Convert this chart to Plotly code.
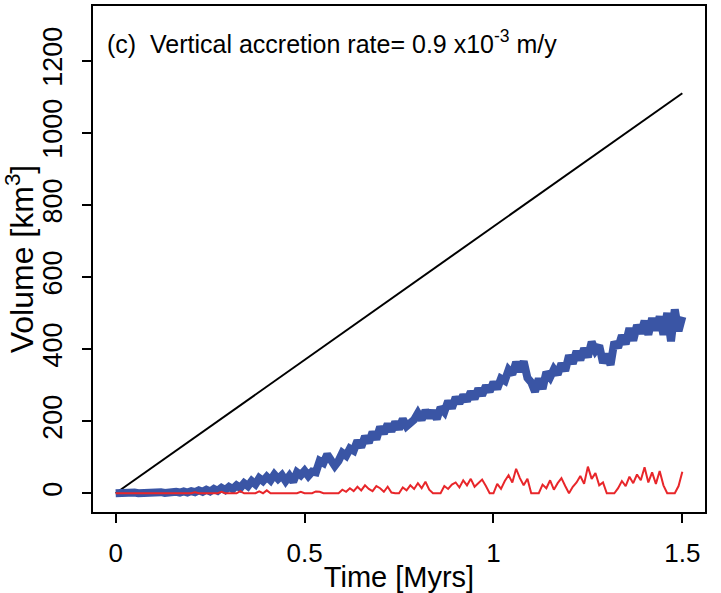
import plotly.graph_objects as go

# Time axis (Myrs), 0.01 step
time = [round(i * 0.01, 2) for i in range(151)]

# Black reference line (end points)
ref_time = [0.0, 1.5]
ref_volume = [0, 1110]

# Blue series (thick, noisy)
blue_volume = [
    0, 1, 0, 1, 0, 2, 0, 1, 2, 0,
    2, 0, 3, 1, 3, 1, 4, 2, 5, 2,
    6, 3, 8, 4, 10, 5, 12, 7, 15, 9,
    18, 12, 22, 15, 28, 20, 34, 25, 42, 34,
    46, 36, 52, 40, 50, 34, 48, 32, 58, 50,
    62, 48, 60, 58, 90, 84, 108, 92, 76, 90,
    112, 104, 124, 118, 146, 128, 158, 140, 170, 150,
    184, 166, 192, 172, 198, 178, 206, 186, 196, 204,
    222, 204, 230, 210, 228, 206, 238, 226, 256, 236,
    266, 250, 272, 256, 282, 262, 290, 272, 298, 282,
    308, 290, 318, 312, 342, 330, 364, 338, 366, 320,
    308, 282, 318, 290, 336, 322, 344, 330, 360, 340,
    382, 360, 394, 370, 402, 378, 420, 396, 410, 362,
    386, 356, 420, 404, 438, 414, 458, 424, 466, 444,
    478, 440, 486, 452, 490, 440, 500, 422, 510, 450,
    490,
]

# Red series (spiky, near zero)
red_volume = [
    0, 0, 0, 0, 0, 0, 0, 0, 0, 0,
    0, 0, 0, 0, 0, 0, 0, 0, 0, 0,
    0, 3, 0, 0, 0, 0, 0, 0, 4, 0,
    0, 0, 0, 6, 0, 0, 0, 0, 5, 0,
    8, 0, 0, 0, 0, 0, 0, 0, 0, 4,
    0, 0, 0, 5, 4, 0, 0, 0, 0, 0,
    10, 4, 14, 6, 18, 8, 22, 12, 6, 20,
    14, 4, 18, 2, 0, 0, 16, 8, 22, 12,
    28, 14, 32, 10, 0, 0, 0, 20, 12, 24,
    30, 16, 36, 22, 40, 18, 28, 38, 20, 0,
    0, 26, 12, 34, 50, 30, 68, 42, 22, 40,
    0, 0, 0, 24, 14, 36, 10, 28, 42, 20,
    0, 18, 30, 48, 26, 74, 40, 56, 22, 30,
    0, 0, 0, 14, 34, 20, 46, 28, 52, 36,
    72, 30, 58, 26, 62, 22, 0, 0, 0, 20,
    60,
]

x_ticks = [0, 0.5, 1, 1.5]
x_tick_text = ["0", "0.5", "1", "1.5"]
y_ticks = [0, 200, 400, 600, 800, 1000, 1200]
y_tick_text = ["0", "200", "400", "600", "800", "1000", "1200"]

FONT = "Liberation Sans, Arial, Helvetica, sans-serif"

fig = go.Figure()
fig.add_trace(go.Scatter(x=ref_time, y=ref_volume, mode="lines",
                         line=dict(color="black", width=2), showlegend=False))
fig.add_trace(go.Scatter(x=time, y=blue_volume, mode="lines",
                         line=dict(color="#3A55A5", width=8), showlegend=False))
fig.add_trace(go.Scatter(x=time, y=red_volume, mode="lines",
                         line=dict(color="#E8262A", width=2), showlegend=False))

axis_common = dict(
    showline=True, linecolor="black", linewidth=2, mirror=True,
    ticks="outside", ticklen=9, tickwidth=2, tickcolor="black",
    showgrid=False, zeroline=False,
)

fig.update_layout(
    width=721, height=593,
    margin=dict(l=93, r=16, t=4, b=79),
    paper_bgcolor="white", plot_bgcolor="white",
    font=dict(family=FONT, color="black"),
    xaxis=dict(range=[-0.06, 1.56], tickvals=x_ticks, ticktext=x_tick_text,
               tickfont=dict(family=FONT, size=26, color="black"),
               title=dict(text="Time [Myrs]", font=dict(family=FONT, size=29), standoff=0),
               ticklabelstandoff=8, **axis_common),
    yaxis=dict(range=[-52, 1352], tickvals=y_ticks, ticktext=y_tick_text,
               tickangle=-90,
               tickfont=dict(family=FONT, size=27, color="black"),
               title=dict(text="Volume [km<sup>3</sup>]", font=dict(family=FONT, size=32), standoff=9),
               ticklabelstandoff=9, **axis_common),
    annotations=[dict(
        x=0.02, y=0.965, xref="paper", yref="paper", xanchor="left", yanchor="top",
        text="(c)  Vertical accretion rate= 0.9 x10<sup>-3</sup> m/y",
        showarrow=False, font=dict(family=FONT, size=25, color="black"),
    )],
)

fig.write_html("out.html")
